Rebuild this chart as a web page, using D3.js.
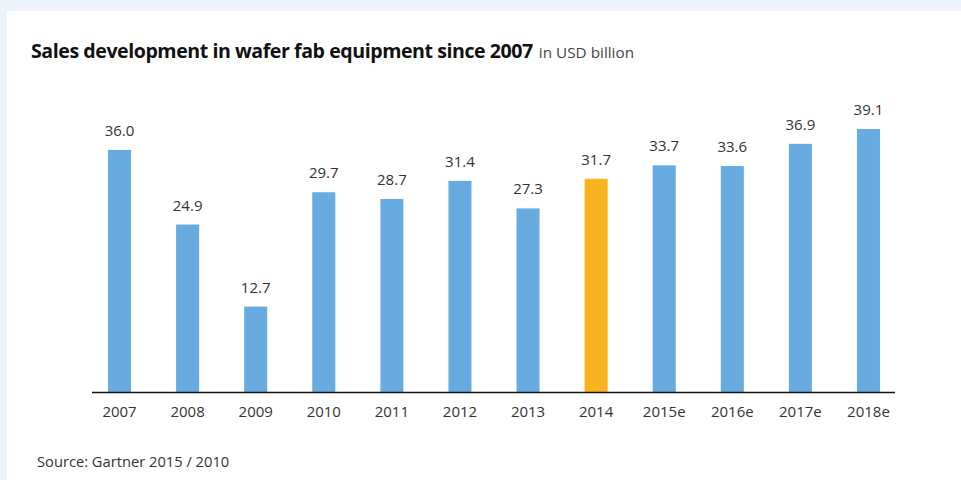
<!DOCTYPE html>
<html>
<head>
<meta charset="utf-8">
<script src="https://cdn.jsdelivr.net/npm/d3@7"></script>
<style>
  html, body { margin: 0; padding: 0; background: #edf4fc; }
  svg { display: block; }
</style>
</head>
<body>
<svg id="chart" width="961" height="480"></svg>
<script>
// Wafer fab equipment sales, USD billion
const years = ["2007", "2008", "2009", "2010", "2011", "2012", "2013", "2014", "2015e", "2016e", "2017e", "2018e"];
const sales = [36.0, 24.9, 12.7, 29.7, 28.7, 31.4, 27.3, 31.7, 33.7, 33.6, 36.9, 39.1];
const highlightYear = "2014";

const svg = d3.select("#chart");
const W = 961, H = 480;

// white panel on the light blue page
svg.append("rect").attr("x", 7).attr("y", 11).attr("width", W - 7).attr("height", H - 11).attr("fill", "#ffffff");

const font = "'Open Sans', sans-serif";

// title
const title = svg.append("text").attr("x", 31).attr("y", 58)
  .attr("font-family", font).attr("fill", "#111");
title.append("tspan").attr("font-weight", 700).attr("font-size", 19.6)
  .attr("letter-spacing", -0.45)
  .text("Sales development in wafer fab equipment since 2007");
title.append("tspan").attr("font-size", 15.3).attr("fill", "#444").attr("dx", 6)
  .text("in USD billion");

const x = d3.scaleBand().domain(years).range([85.5, 902.5]).paddingInner(0.662).paddingOuter(0.331);
const y = d3.scaleLinear().domain([0, 40]).range([392, 123]);

const bars = svg.append("g");
bars.selectAll("rect").data(years).join("rect")
  .attr("x", d => x(d))
  .attr("width", x.bandwidth())
  .attr("y", (d, i) => y(sales[i]))
  .attr("height", (d, i) => y(0) - y(sales[i]))
  .attr("fill", d => d === highlightYear ? "#f9b31f" : "#68abe0");

// value labels
svg.append("g").selectAll("text").data(years).join("text")
  .attr("x", d => x(d) + x.bandwidth() / 2)
  .attr("y", (d, i) => y(sales[i]) - 14)
  .attr("text-anchor", "middle")
  .attr("font-family", font).attr("font-size", 15).attr("fill", "#333")
  .text((d, i) => sales[i].toFixed(1));

// category axis
const axis = svg.append("g").attr("transform", `translate(0,${y(0)})`)
  .call(d3.axisBottom(x).tickSize(0).tickPadding(14));
axis.select(".domain").remove();
axis.append("line").attr("x1", 92).attr("x2", 895).attr("y1", 0.5).attr("y2", 0.5)
  .attr("stroke", "#111").attr("stroke-width", 1.3);
axis.selectAll(".tick text").attr("font-family", font).attr("font-size", 15).attr("fill", "#333");

// source note
svg.append("text").attr("x", 37).attr("y", 467)
  .attr("font-family", font).attr("font-size", 14.7).attr("fill", "#333")
  .text("Source: Gartner 2015 / 2010");
</script>
</body>
</html>
